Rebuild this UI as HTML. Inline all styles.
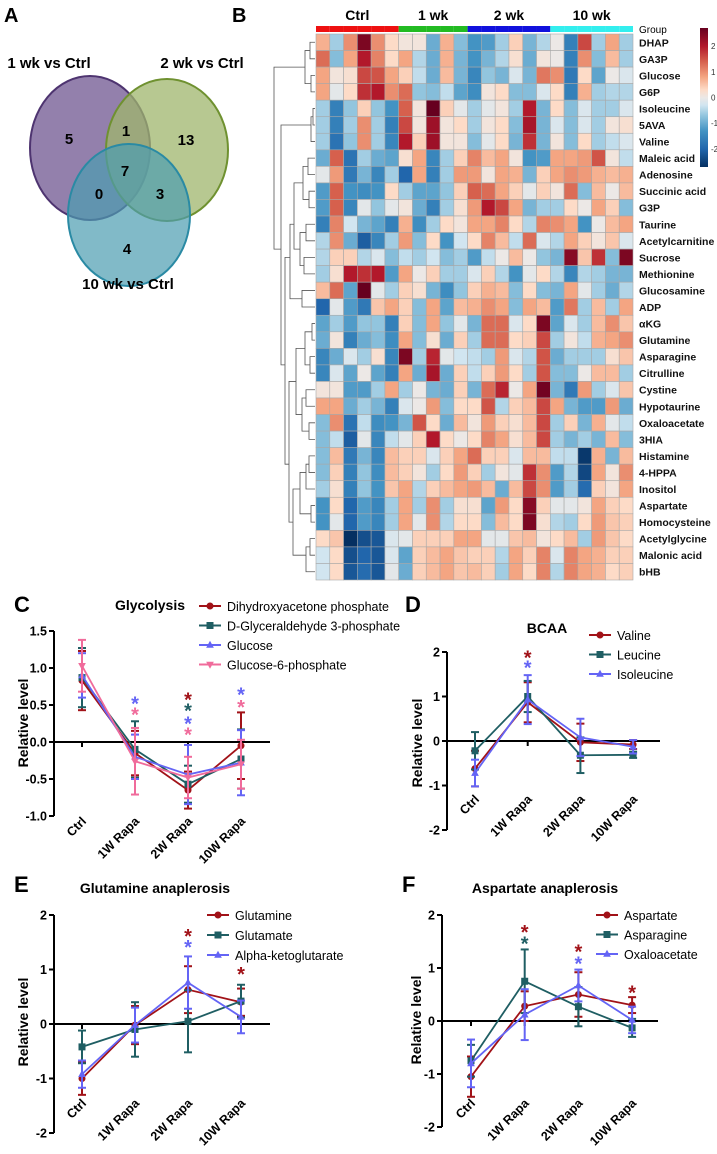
<!DOCTYPE html>
<html><head><meta charset="utf-8">
<style>
html,body{margin:0;padding:0;background:#fff;}
body{width:717px;height:1149px;position:relative;overflow:hidden;font-family:"Liberation Sans",Arial,sans-serif;}
svg text{font-family:"Liberation Sans",Arial,sans-serif;}
</style></head>
<body>
<svg id="fig" width="717" height="1149" viewBox="0 0 717 1149" xmlns="http://www.w3.org/2000/svg">
  <g>
    <text x="4" y="22" font-size="20" font-weight="bold">A</text>
    <ellipse cx="90" cy="148" rx="60" ry="72" fill="#6f5590" fill-opacity="0.75" stroke="#4e3470" stroke-width="2"/>
    <ellipse cx="167" cy="150" rx="61" ry="71" fill="#9fb56c" fill-opacity="0.75" stroke="#6f9130" stroke-width="2"/>
    <ellipse cx="129" cy="215" rx="61" ry="71" fill="#4b9cb0" fill-opacity="0.7" stroke="#2a8aa4" stroke-width="2"/>
    <text x="49" y="68" font-size="15" font-weight="bold" text-anchor="middle">1 wk vs Ctrl</text>
    <text x="202" y="68" font-size="15" font-weight="bold" text-anchor="middle">2 wk vs Ctrl</text>
    <text x="128" y="289" font-size="15" font-weight="bold" text-anchor="middle">10 wk vs Ctrl</text>
    <g font-size="15" font-weight="bold" text-anchor="middle">
      <text x="69" y="144">5</text>
      <text x="126" y="136">1</text>
      <text x="186" y="145">13</text>
      <text x="125" y="176">7</text>
      <text x="99" y="199">0</text>
      <text x="160" y="199">3</text>
      <text x="127" y="254">4</text>
    </g>
  </g>
  <text x="232" y="22" font-size="20" font-weight="bold">B</text>
  <g id="heat"></g>
  <g id="chartC"></g>
  <g id="chartD"></g>
  <g id="chartE"></g>
  <g id="chartF"></g>
</svg>
<script>
// ---------- Heatmap data ----------
const heatRows = ["DHAP","GA3P","Glucose","G6P","Isoleucine","5AVA","Valine","Maleic acid","Adenosine","Succinic acid","G3P","Taurine","Acetylcarnitine","Sucrose","Methionine","Glucosamine","ADP","\u03b1KG","Glutamine","Asparagine","Citrulline","Cystine","Hypotaurine","Oxaloacetate","3HIA","Histamine","4-HPPA","Inositol","Aspartate","Homocysteine","Acetylglycine","Malonic acid","bHB"];
const heatGroups = ["Ctrl","Ctrl","Ctrl","Ctrl","Ctrl","Ctrl","1 wk","1 wk","1 wk","1 wk","1 wk","2 wk","2 wk","2 wk","2 wk","2 wk","2 wk","10 wk","10 wk","10 wk","10 wk","10 wk","10 wk"];
const heatValues = [
[0.7,-0.6,1.0,2.5,1.0,0.3, 0.1,0.1,-1.0,0.7,-0.8, -1.3,-1.2,-0.6,0.4,-0.9,-0.5, 0,-1.6,1.6,-0.6,0.8,-0.6],
[1.3,-0.8,0.8,2.0,1.1,0.3, 0.8,-0.5,-1.0,0.7,-0.9, -1.3,-0.9,-0.5,0.2,-1.0,0.1, 0,-1.6,1.0,-0.8,0.6,-0.6],
[0.8,0.1,0.2,1.6,1.5,0.8, 0.4,-0.4,-1.0,0.6,-0.9, -1.5,-0.7,-0.9,-0.2,-0.9,1.2, 1.0,-1.7,0.3,-1.1,0,-0.2],
[0.8,-0.1,0.3,1.8,2.0,1.0, 1.3,-0.7,-0.8,-0.4,-1.1, -1.4,0.1,0.3,-0.8,-0.8,-0.2, 0.3,-1.6,0.7,-0.6,-0.5,-0.5],
[-0.6,-1.6,-0.7,0.4,-0.7,-1.3, 1.4,0.1,2.8,0.4,-0.1, -0.6,-0.1,0.1,-0.6,2.0,-0.9, 0.3,-0.8,-0.2,-0.6,-0.6,-0.2],
[-0.6,-1.6,-0.6,1.0,-0.6,-1.6, 1.6,0.1,2.2,0.1,0.3, -0.6,0.1,0.3,-0.8,2.1,-0.9, -0.2,-0.8,-0.2,-0.6,0.1,0.2],
[-0.6,-1.8,-0.7,1.0,-0.6,-1.5, 2.0,0.4,2.2,0.1,0.1, -0.8,-0.1,0.3,-0.9,1.8,-0.9, 0.1,-0.8,0.3,-0.6,-0.4,-0.2],
[-1.0,1.4,-1.8,-0.6,-1.0,-1.1, 0.2,0.8,-1.5,-0.6,0.4, 1.1,0.6,0.8,0.1,-1.3,-1.2, 0.8,0.8,0.9,1.5,0.1,-0.4],
[-0.1,0.9,-1.7,-0.9,-1.5,-0.6, -2.0,0.8,-1.6,-0.6,0.9, 0.9,0.1,0.8,0.7,-0.9,0.4, 0.8,1.0,0.9,0.7,0.6,0.7],
[-1.2,1.4,-1.3,-1.4,-1.3,0.3, -0.6,-1.1,-1.1,-0.7,0.4, 1.4,1.3,0.8,0.4,-0.1,0.4, 0.1,1.3,-0.8,0.6,0,0.6],
[-1.2,1.4,-1.5,-0.1,-0.7,-0.1, 0.1,-1.0,-1.6,-0.6,0.2, 0.9,2.0,1.6,0.8,-0.9,-0.6, -0.6,0.3,0,0.8,0.4,-0.8],
[-1.6,1.1,-0.3,-0.9,-1.1,-1.6, 0.7,-1.4,-0.6,0.3,0.1, 0.8,0.8,1.1,0.3,-0.5,1.1, 1.0,0.8,-1.3,0,0.6,0.8],
[-0.5,1.0,-1.0,-2.1,-1.5,-0.6, 0.9,-0.8,0.3,-1.3,-0.3, 0.3,1.1,0.6,-0.4,1.3,-0.2, -0.5,0.8,0.4,0.1,0.5,-0.2],
[-0.5,0.4,0.4,-0.5,-0.2,-0.8, -0.4,-0.6,-0.3,-0.8,-0.6, -1.2,-0.4,0,0.6,0,-0.7, -0.9,2.4,0.5,1.8,-0.8,2.5],
[-0.6,0.2,2.0,1.8,2.0,-1.2, 0.8,0,0.4,-0.6,-0.6, -0.2,0.4,-0.5,-1.3,-0.1,0.3, -0.5,-1.5,-0.5,-0.6,-0.9,-0.9],
[0.6,1.3,-1.1,2.7,-0.1,-0.6, 0.4,0.2,-0.9,-1.4,-0.7, 0.4,0.7,0.6,-0.8,0.3,-0.8, -0.9,0.8,-0.1,-0.6,-1.0,-0.5],
[-2.0,-0.1,-1.2,-1.7,0.5,0.8, 0.4,-0.8,0.8,-1.1,0.6, 0.7,1.0,0.8,-0.8,0.8,0.6, -1.2,1.2,-0.6,0.6,-0.6,0.8],
[-1.1,-0.6,-1.2,-0.7,-0.7,-1.6, 0.4,-0.8,0.8,-0.7,-0.1, -0.9,1.3,1.3,-0.2,0.3,2.5, -1.1,-0.2,-0.6,0.6,1.0,0.5],
[-1.0,0.1,-1.6,-1.0,-0.8,-1.4, 0.8,-0.8,0.2,-1.0,0.4, -0.6,1.3,1.3,0.3,0.4,1.6, -0.6,0.1,-0.4,0.7,0.8,1.0],
[-1.5,-1.0,-0.2,-0.6,0.2,-1.5, 2.5,-0.6,1.9,-0.1,-0.3, -0.4,-0.6,0.9,-0.2,-0.5,1.5, -1.0,-0.6,-0.6,-0.6,0.2,0.5],
[-1.5,-0.2,-1.1,0,-1.1,-1.6, 0.8,-1.0,2.1,-1.0,0.4, -0.4,0.4,0.9,0.3,-0.6,1.5, -0.8,-0.8,0,0.6,0.6,-0.6],
[0.1,0.1,-1.2,-1.2,-0.6,0.8, -0.6,0,-0.9,-1.0,0.4, -0.9,1.3,1.9,0,0.8,2.6, -0.9,-1.7,0.9,-0.6,-0.2,0.5],
[0.8,0.8,-1.0,-0.6,-0.9,-1.6, -0.2,0,0.9,-0.8,0.3, 0.3,1.5,-0.5,0.4,0.6,1.6, 0.8,-0.9,-1.2,-1.2,0.9,-1.0],
[-0.8,1.0,-1.8,-0.4,-1.4,-1.3, -0.9,1.5,0.3,-1.0,0.6, 0.1,0.9,0.4,0.2,0.6,1.6, -0.6,0.4,-0.9,0.7,-0.1,-0.4],
[-0.8,-0.4,-2.1,-0.1,-1.5,-0.4, -0.1,0.4,2.0,0.3,0, 0.3,1.1,0.8,0.2,0.6,1.6, -0.6,-0.9,-0.6,-0.9,0.6,-0.8],
[-0.8,0.6,-1.7,-0.9,-1.5,0.6, 0.4,0.4,-0.2,0.4,0.8, 1.3,0.4,0.4,-0.2,0.6,0.6, -0.4,-0.4,-2.6,0.7,-0.9,0.6],
[-0.8,0.4,-1.6,-0.7,-1.4,0.6, 0.4,0.1,-0.6,0.3,0.9, 0.4,-0.6,0.1,-0.1,1.8,1.0, -1.2,-0.5,-2.4,0.8,0.1,1.0],
[-0.6,0.2,-1.6,-0.7,-1.3,0.5, 0.8,-0.5,0.4,0.6,0.8, 0.9,0.6,-1.0,0.6,1.6,1.0, -1.2,-0.6,-1.9,0.4,0.1,0.8],
[-1.3,0.3,-2.0,-1.2,-1.5,-0.6, 0.8,-0.6,1.0,-0.6,0.2, 0.2,-1.1,0.9,0.3,2.4,0.4, -0.1,-0.1,0.1,0.8,0.4,0.3],
[-1.3,-0.1,-2.0,-1.2,-1.5,-0.6, 0.8,-0.1,1.0,-0.5,0.3, 0.3,-0.8,0.6,0.3,2.5,0.2, -0.5,-0.6,0.3,0.9,0.5,0.4],
[0.3,0.5,-2.8,-2.3,-2.2,-0.2, -0.1,0.4,0.4,0.4,0.8, 0.8,-0.1,-0.1,0.5,0.6,0.1, 0.3,0.6,-0.6,0.9,0.5,0.3],
[-0.3,0.3,-2.3,-2.0,-2.2,-0.2, -1.1,0.4,0.6,0.8,0.5, 0.4,0.4,-0.5,0.8,0.4,1.1, -0.2,1.1,0.8,0.7,0.4,0.4],
[-0.3,0.3,-2.2,-1.9,-2.2,-0.1, -1.0,0.4,0.6,0.8,0.5, 0.6,0.4,-0.6,0.8,0.3,1.1, -0.5,1.1,0.8,0.7,0.3,0.4]
];
const groupNames = ["Ctrl","1 wk","2 wk","10 wk"];
const colorbarTicks = [2,1,0,-1,-2];

// ---------- Chart data ----------
const cats = ["Ctrl","1W Rapa","2W Rapa","10W Rapa"];
// C Glycolysis
const cNames = ["Dihydroxyacetone phosphate","D-Glyceraldehyde 3-phosphate","Glucose","Glucose-6-phosphate"];
const cDhap = [0.83,-0.15,-0.65,-0.05];
const cDhapErr = [0.4,0.3,0.25,0.45];
const cGa3p = [0.87,-0.1,-0.57,-0.23];
const cGa3pErr = [0.4,0.38,0.25,0.4];
const cGlc = [0.9,-0.2,-0.44,-0.28];
const cGlcErr = [0.3,0.3,0.4,0.44];
const cG6p = [1.03,-0.26,-0.48,-0.3];
const cG6pErr = [0.35,0.45,0.28,0.33];
const cTicks = [1.5,1.0,0.5,0.0,-0.5,-1.0];
const cTickLabels = ["1.5","1.0","0.5","0.0","-0.5","-1.0"];
const cStarCat = [1,1,2,2,2,2,3,3];
const cStarSeries = [2,3,0,1,2,3,2,3];
const cStarVal = [0.55,0.4,0.6,0.45,0.28,0.13,0.67,0.5];
// D BCAA
const dNames = ["Valine","Leucine","Isoleucine"];
const dVal = [-0.62,0.87,-0.03,-0.08];
const dValErr = [0.4,0.45,0.42,0.1];
const dLeu = [-0.22,1.0,-0.32,-0.31];
const dLeuErr = [0.42,0.35,0.4,0.07];
const dIle = [-0.72,0.93,0.08,-0.13];
const dIleErr = [0.3,0.55,0.42,0.15];
const intTicks = [2,1,0,-1,-2];
const intTickLabels = ["2","1","0","-1","-2"];
const dStarCat = [1,1];
const dStarSeries = [0,2];
const dStarVal = [1.92,1.7];
// E Glutamine
const eNames = ["Glutamine","Glutamate","Alpha-ketoglutarate"];
const eGln = [-1.0,-0.02,0.63,0.4];
const eGlnErr = [0.3,0.35,0.43,0.25];
const eGlu = [-0.42,-0.1,0.05,0.42];
const eGluErr = [0.3,0.5,0.57,0.3];
const eAkg = [-0.92,-0.02,0.76,0.13];
const eAkgErr = [0.25,0.32,0.48,0.3];
const eStarCat = [2,2,3];
const eStarSeries = [0,2,0];
const eStarVal = [1.65,1.45,0.95];
// F Aspartate
const fNames = ["Aspartate","Asparagine","Oxaloacetate"];
const fAsp = [-1.05,0.28,0.5,0.3];
const fAspErr = [0.38,0.28,0.42,0.15];
const fAsn = [-0.75,0.75,0.27,-0.13];
const fAsnErr = [0.3,0.6,0.37,0.17];
const fOaa = [-0.8,0.12,0.67,0.02];
const fOaaErr = [0.45,0.48,0.3,0.25];
const fStarCat = [1,1,2,2,3];
const fStarSeries = [0,1,0,2,0];
const fStarVal = [1.72,1.5,1.35,1.12,0.58];

const NS = "http://www.w3.org/2000/svg";
function mk(tag, attrs, parent){
  const e = document.createElementNS(NS, tag);
  for (const k in attrs) e.setAttribute(k, attrs[k]);
  parent.appendChild(e);
  return e;
}

// ---------- Heatmap ----------
const stops = [[-2.7,[5,48,97]],[-2.0,[33,102,172]],[-1.3,[67,147,195]],[-0.7,[146,197,222]],[-0.3,[209,229,240]],[0,[236,232,230]],[0.3,[253,219,199]],[0.8,[244,165,130]],[1.4,[214,96,77]],[2.0,[178,24,43]],[2.7,[103,0,31]]];
function heatColor(v){
  if (v <= stops[0][0]) v = stops[0][0];
  if (v >= stops[stops.length-1][0]) v = stops[stops.length-1][0];
  for (let i=0;i<stops.length-1;i++){
    const a=stops[i], b=stops[i+1];
    if (v>=a[0] && v<=b[0]){
      const t=(v-a[0])/(b[0]-a[0]);
      const c=a[1].map((x,j)=>Math.round(x+(b[1][j]-x)*t));
      return "rgb("+c.join(",")+")";
    }
  }
  return "#fff";
}
(function(){
  const g = document.getElementById("heat");
  const x0=316, y0=34, cw=317/23, rh=546/33;
  const gcol = {"Ctrl":"#ee1111","1 wk":"#22bb22","2 wk":"#1111dd","10 wk":"#33eeee"};
  heatGroups.forEach((grp,j)=>{
    const r = mk("rect",{x:x0+j*cw,y:26,width:cw,height:6,fill:gcol[grp]},g);
    
    
  });
  groupNames.forEach(name=>{
    const idx = heatGroups.map((g2,i)=>g2===name?i:-1).filter(i=>i>=0);
    const cx = x0 + (idx[0] + idx.length/2)*cw;
    const t = mk("text",{x:cx,y:20,"font-size":14,"font-weight":"bold","text-anchor":"middle"},g);
    t.textContent = name;
    
    
  });
  const gl = mk("text",{x:639,y:33,"font-size":10},g);
  gl.textContent="Group";
  
  
  heatValues.forEach((row,i)=>{
    row.forEach((v,j)=>{
      const r = mk("rect",{x:x0+j*cw,y:y0+i*rh,width:cw,height:rh,fill:heatColor(v),stroke:"#a8a8a8","stroke-width":0.6},g);
      
      
    });
    const t = mk("text",{x:639,y:y0+i*rh+rh/2+4,"font-size":10.5,"font-weight":"bold",fill:"#111",textLength:0},g);
    t.removeAttribute("textLength");
    t.textContent = heatRows[i];
    
    
  });
  // colorbar
  const defs = mk("defs",{},g);
  const lg = mk("linearGradient",{id:"cbg",x1:0,y1:0,x2:0,y2:1},defs);
  for (let k=stops.length-1;k>=0;k--){
    const s=stops[k];
    mk("stop",{offset:((2.7-s[0])/5.4),"stop-color":"rgb("+s[1].join(",")+")"},lg);
  }
  const cb = mk("rect",{x:700,y:28,width:8,height:139,fill:"url(#cbg)"},g);
  
  
  colorbarTicks.forEach(v=>{
    const y = 28 + (2.7 - v)/5.4*139;
    const t = mk("text",{x:711,y:y+3,"font-size":8,fill:"#333"},g);
    t.textContent = String(v);
    
    
  });
  // dendrogram (approximate structure)
  const rc = i => y0 + i*rh + rh/2;
  const d = mk("g",{stroke:"#555","stroke-width":0.8,fill:"none"},g);
  
  
  function link(ya,yb,xa,xb,xm){ // children at ya (x=xa) and yb (x=xb) merged at xm
    mk("path",{d:`M${xa},${ya}H${xm}V${yb}H${xb}`},d);
  }
  link(rc(0),rc(1),315,315,310); link(rc(2),rc(3),315,315,311);
  link((rc(0)+rc(1))/2,(rc(2)+rc(3))/2,310,311,305);
  link(rc(4),rc(5),315,315,313); link((rc(4)+rc(5))/2,rc(6),313,315,311);
  link(rc(7),rc(8),315,315,308); link(rc(9),rc(10),315,315,309);
  link((rc(7)+rc(8))/2,(rc(9)+rc(10))/2,308,309,303);
  link(rc(11),rc(12),315,315,306); link(rc(13),rc(14),315,315,304);
  link((rc(11)+rc(12))/2,(rc(13)+rc(14))/2,306,304,300);
  link(rc(15),rc(16),315,315,302);
  link(rc(17),rc(18),315,315,312); link(rc(19),rc(20),315,315,310);
  link((rc(17)+rc(18))/2,(rc(19)+rc(20))/2,312,310,305);
  link(rc(21),rc(22),315,315,306); link(rc(23),rc(24),315,315,309);
  link((rc(21)+rc(22))/2,(rc(23)+rc(24))/2,306,309,302);
  link(rc(25),rc(26),315,315,309); link((rc(25)+rc(26))/2,rc(27),309,315,306);
  link(rc(28),rc(29),315,315,311); link((rc(25)+rc(27))/2,(rc(28)+rc(29))/2,306,311,300);
  link(rc(30),rc(31),315,315,310); link((rc(30)+rc(31))/2,rc(32),310,315,306);
  link((rc(17)+rc(20))/2,(rc(21)+rc(24))/2,305,302,296);
  link((rc(26)+rc(28))/2,(rc(30)+rc(32))/2,300,306,293);
  link((rc(19)+rc(22))/2,(rc(27)+rc(31))/2,296,293,289);
  link((rc(7)+rc(10))/2,(rc(11)+rc(14))/2,303,300,294);
  link((rc(9)+rc(13))/2,rc(15.5),294,302,290);
  link((rc(10)+rc(16))/2,(rc(22)+rc(29))/2,290,289,285);
  link(rc(5),(rc(13)+rc(26))/2,311,285,281);
  link((rc(1)+rc(2))/2,(rc(5)+rc(20))/2,305,281,274);
})();

// ---------- Line charts ----------
const seriesStyle = [
  {color:"#a11218", marker:"circle"},
  {color:"#1f5e63", marker:"square"},
  {color:"#6464f5", marker:"tri"},
  {color:"#f06b9b", marker:"itri"}
];
function drawChart(id, geo, names, means, errs, styles, ticks, tickLabels, starCat, starSeries, starVal){
  const g = document.getElementById(id);
  const y = v => geo.y0 - (v - geo.v0)/(geo.v1 - geo.v0)*(geo.y0 - geo.y1);
  const x = i => geo.xs[0] + i*(geo.xs[1]-geo.xs[0]);
  const lab = mk("text",{x:geo.labX,y:geo.labY,"font-size":22,"font-weight":"bold"},g);
  lab.textContent = geo.label;
  
  
  const ttl = mk("text",{x:geo.titleX,y:geo.titleY,"font-size":14,"font-weight":"bold","text-anchor":"middle"},g);
  ttl.textContent = geo.title;
  
  
  // y axis
  const ax = mk("line",{x1:geo.ax,y1:y(geo.v1),x2:geo.ax,y2:y(geo.v0),stroke:"#000","stroke-width":2},g);
  
  
  ticks.forEach((v,k)=>{
    mk("line",{x1:geo.ax-5,y1:y(v),x2:geo.ax,y2:y(v),stroke:"#000","stroke-width":2},g);
    const t = mk("text",{x:geo.ax-7,y:y(v)+4.5,"font-size":12.5,"font-weight":"bold","text-anchor":"end"},g);
    t.textContent = tickLabels[k];
    
    
  });
  const yt = mk("text",{x:0,y:0,"font-size":14,"font-weight":"bold","text-anchor":"middle",transform:`translate(${geo.ytX},${geo.ytY}) rotate(-90)`},g);
  yt.textContent = "Relative level";
  
  
  // zero line
  const zl = mk("line",{x1:geo.ax,y1:y(0),x2:geo.zEnd,y2:y(0),stroke:"#000","stroke-width":2},g);
  
  
  cats.forEach((c,i)=>{
    mk("line",{x1:x(i),y1:y(0),x2:x(i),y2:y(0)+5,stroke:"#000","stroke-width":2},g);
    const t = mk("text",{x:0,y:0,"font-size":12.5,"font-weight":"bold","text-anchor":"end",transform:`translate(${x(i)+5},${geo.xlY}) rotate(-45)`},g);
    t.textContent = c;
    
    
  });
  function marker(parent, mx, my, st, s){
    let e;
    if (st.marker==="circle") e = mk("circle",{cx:mx,cy:my,r:s,fill:st.color},parent);
    else if (st.marker==="square") e = mk("rect",{x:mx-s,y:my-s,width:2*s,height:2*s,fill:st.color},parent);
    else if (st.marker==="tri") e = mk("polygon",{points:`${mx},${my-s*1.2} ${mx-s*1.1},${my+s*0.8} ${mx+s*1.1},${my+s*0.8}`,fill:st.color},parent);
    else e = mk("polygon",{points:`${mx},${my+s*1.2} ${mx-s*1.1},${my-s*0.8} ${mx+s*1.1},${my-s*0.8}`,fill:st.color},parent);
    return e;
  }
  means.forEach((m,si)=>{
    const st = styles[si];
    const sg = mk("g",{},g);
    
    
    m.forEach((v,i)=>{
      const e = errs[si][i];
      mk("line",{x1:x(i),y1:y(v-e),x2:x(i),y2:y(v+e),stroke:st.color,"stroke-width":2},sg);
      mk("line",{x1:x(i)-4,y1:y(v+e),x2:x(i)+4,y2:y(v+e),stroke:st.color,"stroke-width":2},sg);
      mk("line",{x1:x(i)-4,y1:y(v-e),x2:x(i)+4,y2:y(v-e),stroke:st.color,"stroke-width":2},sg);
    });
    const pts = m.map((v,i)=>x(i)+","+y(v)).join(" ");
    const pl = mk("polyline",{points:pts,fill:"none",stroke:st.color,"stroke-width":1.8},sg);
    
    
    m.forEach((v,i)=>{
      const mkr = marker(sg,x(i),y(v),st,3.5);
      
      
    });
    // legend
    const ly = geo.legY + si*geo.legDy;
    const le = mk("g",{},g);
    
    
    mk("line",{x1:geo.legX-11,y1:ly,x2:geo.legX+11,y2:ly,stroke:st.color,"stroke-width":2},le);
    marker(le,geo.legX,ly,st,3.5);
    const lt = mk("text",{x:geo.legX+17,y:ly+5,"font-size":geo.legFont},le);
    lt.textContent = names[si];
  });
  starCat.forEach((c,k)=>{
    const t = mk("text",{x:x(c),y:y(starVal[k])+9,"font-size":20,"font-weight":"bold","text-anchor":"middle",fill:styles[starSeries[k]].color},g);
    t.textContent = "*";
    
    
  });
}
drawChart("chartC",{label:"C",labX:14,labY:612,title:"Glycolysis",titleX:150,titleY:610,ax:54,v0:-1.0,v1:1.5,y0:816,y1:631,xs:[82,135],zEnd:270,xlY:822,ytX:28,ytY:723,legX:210,legY:606,legDy:19.5,legFont:12.5},
  cNames,[cDhap,cGa3p,cGlc,cG6p],[cDhapErr,cGa3pErr,cGlcErr,cG6pErr],seriesStyle,cTicks,cTickLabels,cStarCat,cStarSeries,cStarVal);
drawChart("chartD",{label:"D",labX:405,labY:612,title:"BCAA",titleX:547,titleY:633,ax:447,v0:-2,v1:2,y0:830,y1:652,xs:[475,527.7],zEnd:660,xlY:800,ytX:422,ytY:743,legX:600,legY:635,legDy:19.5,legFont:12.5},
  dNames,[dVal,dLeu,dIle],[dValErr,dLeuErr,dIleErr],seriesStyle,intTicks,intTickLabels,dStarCat,dStarSeries,dStarVal);
drawChart("chartE",{label:"E",labX:14,labY:892,title:"Glutamine anaplerosis",titleX:155,titleY:893,ax:54,v0:-2,v1:2,y0:1133,y1:915,xs:[82,135],zEnd:270,xlY:1104,ytX:28,ytY:1022,legX:218,legY:915,legDy:20,legFont:12.5},
  eNames,[eGln,eGlu,eAkg],[eGlnErr,eGluErr,eAkgErr],seriesStyle,intTicks,intTickLabels,eStarCat,eStarSeries,eStarVal);
drawChart("chartF",{label:"F",labX:402,labY:892,title:"Aspartate anaplerosis",titleX:545,titleY:893,ax:442,v0:-2,v1:2,y0:1127,y1:915,xs:[471,524.7],zEnd:658,xlY:1104,ytX:421,ytY:1020,legX:607,legY:915,legDy:19.5,legFont:12.5},
  fNames,[fAsp,fAsn,fOaa],[fAspErr,fAsnErr,fOaaErr],seriesStyle,intTicks,intTickLabels,fStarCat,fStarSeries,fStarVal);
</script>
</body></html>
